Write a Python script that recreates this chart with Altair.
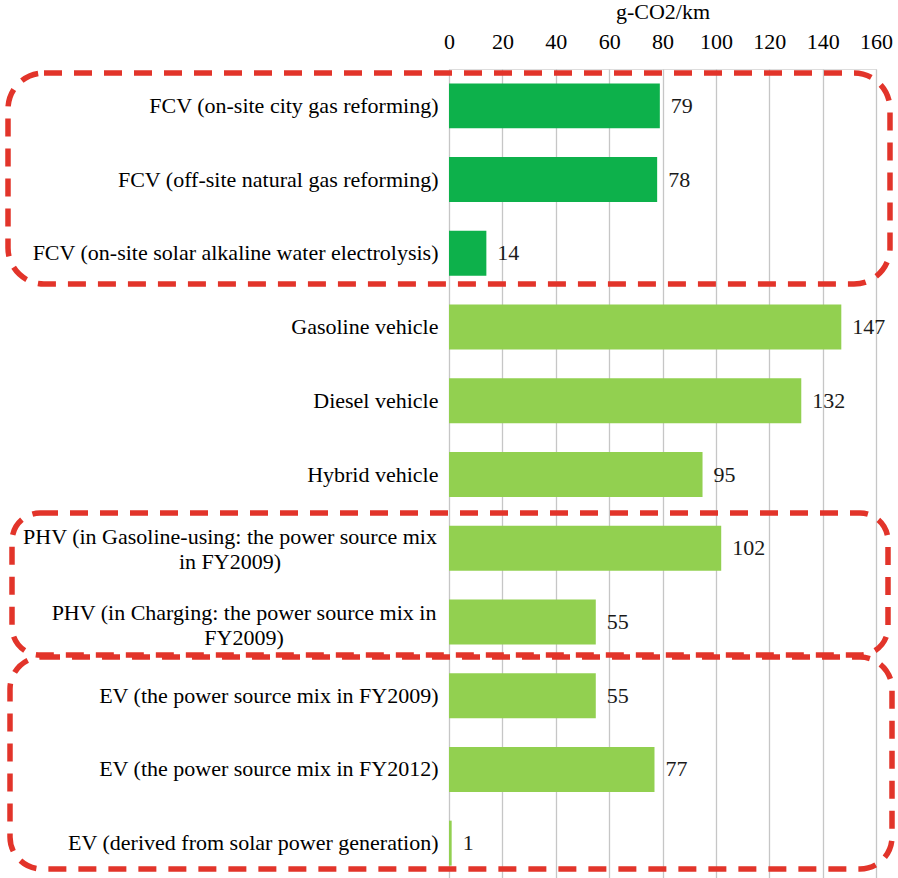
import altair as alt
import pandas as pd

categories = [
    "FCV (on-site city gas reforming)",
    "FCV (off-site natural gas reforming)",
    "FCV (on-site solar alkaline water electrolysis)",
    "Gasoline vehicle",
    "Diesel vehicle",
    "Hybrid vehicle",
    "PHV (in Gasoline-using: the power source mix\nin FY2009)",
    "PHV (in Charging: the power source mix in\nFY2009)",
    "EV (the power source mix in FY2009)",
    "EV (the power source mix in FY2012)",
    "EV (derived from solar power generation)",
]
values = [79, 78, 14, 147, 132, 95, 102, 55, 55, 77, 1]
groups = ["FCV", "FCV", "FCV", "Other", "Other", "Other", "Other", "Other", "Other", "Other", "Other"]
x_ticks = [0, 20, 40, 60, 80, 100, 120, 140, 160]

df = pd.DataFrame({"cat": categories, "val": values, "grp": groups})

W, H = 427, 811
FONT = "Times New Roman, Liberation Serif, serif"
FS = 22

y_enc = alt.Y("cat:N", sort=categories, title=None,
              scale=alt.Scale(paddingInner=0.39, paddingOuter=0.195),
              axis=alt.Axis(labelExpr="indexof(datum.label, 'PHV') >= 0 ? '' : datum.label",
                            labelFont=FONT, labelFontSize=FS, labelColor="#000000",
                            ticks=False, domain=False, labelPadding=11, labelLimit=500))

x_enc = alt.X("val:Q", title="g-CO2/km",
              scale=alt.Scale(domain=[0, 160], nice=False),
              axis=alt.Axis(orient="top", values=x_ticks, labelFont=FONT, labelFontSize=FS,
                            labelColor="#000000", titleFont=FONT, titleFontSize=FS,
                            titleFontWeight="normal", titleColor="#000000", titlePadding=7,
                            ticks=False, domain=False, labelPadding=16, labelFlush=False,
                            grid=True, gridColor="#C6C6C6", gridWidth=1.3))

base = alt.Chart(df)

bars = base.mark_bar().encode(
    x=x_enc,
    y=y_enc,
    color=alt.Color("grp:N", scale=alt.Scale(domain=["FCV", "Other"], range=["#0DB14B", "#92D050"]),
                    legend=None),
)

labels = base.mark_text(align="left", baseline="middle", dx=11, font=FONT, fontSize=FS,
                        color="#1a1a1a").encode(
    x="val:Q", y=alt.Y("cat:N", sort=categories), text="val:Q")

phv1 = base.transform_filter(alt.datum.cat == categories[6]).mark_text(
    align="center", baseline="middle", font=FONT, fontSize=FS, lineBreak="\n",
    lineHeight=25, dy=-11, color="#000000").encode(
    x=alt.value(-219), y=alt.Y("cat:N", sort=categories), text="cat:N")
phv2 = base.transform_filter(alt.datum.cat == categories[7]).mark_text(
    align="center", baseline="middle", font=FONT, fontSize=FS, lineBreak="\n",
    lineHeight=25, dy=-9, color="#000000").encode(
    x=alt.value(-205), y=alt.Y("cat:N", sort=categories), text="cat:N")

one = pd.DataFrame({"k": [0]})
def box(x1, x2, y1, y2, r):
    return alt.Chart(one).mark_rect(filled=False, stroke="#E2342A", strokeWidth=5.5,
                                    strokeDash=[18, 12], cornerRadius=r).encode(
        x=alt.value(x1), x2=alt.value(x2), y=alt.value(y1), y2=alt.value(y2))

box1 = box(-441, 441, 4, 215, 36)
box2 = box(-437, 439, 444, 586, 28)
box3 = box(-439, 443, 588, 800, 32)

chart = alt.layer(bars, labels, phv1, phv2, box1, box2, box3).properties(
    width=W, height=H,
    autosize=alt.AutoSizeParams(type="none"),
    padding={"left": 449, "top": 69, "right": 22, "bottom": 0},
).configure_view(stroke=None).configure(background="#ffffff")

chart.save("out.html", embed_options={"renderer": "svg", "actions": False})
